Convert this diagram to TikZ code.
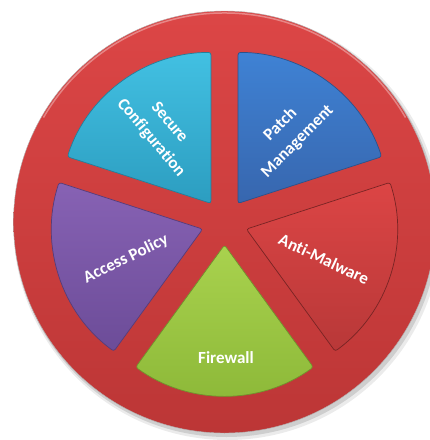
\documentclass[tikz,border=0pt]{standalone}
\usepackage{fontspec}
\setmainfont[Ligatures=NoCommon]{Carlito}
\definecolor{diskT}{HTML}{DC4646}
\definecolor{diskB}{HTML}{BC3636}
\definecolor{cyanT}{HTML}{42C0E2}
\definecolor{cyanB}{HTML}{2C9DC0}
\definecolor{blueT}{HTML}{3F82D4}
\definecolor{blueB}{HTML}{3766AE}
\definecolor{purT}{HTML}{8762B4}
\definecolor{purB}{HTML}{6C4C98}
\definecolor{grnT}{HTML}{A9D24E}
\definecolor{grnB}{HTML}{8CB838}
\definecolor{redT}{HTML}{DC4545}
\definecolor{redB}{HTML}{B83838}
\tikzset{
  wedgebox/.style={rounded corners=2.5pt, line width=0.7pt},
  lbl/.style={text=white, font=\bfseries\fontsize{17}{24}\selectfont, align=center, inner sep=0pt}
}
\begin{document}
\begin{tikzpicture}[x=1pt,y=1pt]
\useasboundingbox (0,-440) rectangle (430,0);
\fill[white] (0,-440) rectangle (430,0);
\coordinate (C) at (224.5,-222);
% soft shadow
\fill[black, opacity=0.08] ([shift={(3,-4)}]C) circle (214);
\fill[black, opacity=0.12] ([shift={(2,-3)}]C) circle (212);
% disk
\shade[top color=diskT, bottom color=diskB, draw=black!30, line width=0.4pt] (C) circle (211);
\draw[white, opacity=0.35, line width=1.5pt] ([shift={(30:209)}]C) arc[start angle=30, end angle=150, radius=209];
% wedges
\shade[wedgebox, draw=cyanB!80!black, top color=cyanT, bottom color=cyanB]
  ([shift={(126:23)}]C) -- ++(90:151) arc[start angle=90, end angle=162, radius=151] -- cycle;
\shade[wedgebox, draw=blueB!80!black, top color=blueT, bottom color=blueB]
  ([shift={(54:23)}]C) -- ++(18:151) arc[start angle=18, end angle=90, radius=151] -- cycle;
\shade[wedgebox, draw=redB!65!black, top color=redT, bottom color=redB]
  ([shift={(-18:23)}]C) -- ++(-54:151) arc[start angle=-54, end angle=18, radius=151] -- cycle;
\shade[wedgebox, draw=grnB!80!black, top color=grnT, bottom color=grnB]
  ([shift={(-90:23)}]C) -- ++(-126:151) arc[start angle=-126, end angle=-54, radius=151] -- cycle;
\shade[wedgebox, draw=purB!80!black, top color=purT, bottom color=purB]
  ([shift={(198:23)}]C) -- ++(162:151) arc[start angle=162, end angle=234, radius=151] -- cycle;
% labels
\node[lbl, rotate=-50] (sec) at (160,-130.5) {Secure\\Configuration};
\node[lbl, rotate=45] (pat) at (289,-133) {Patch\\Management};
\node[lbl, rotate=26] (acc) at (126,-259) {Access Policy};
\node[lbl, rotate=-25] (mal) at (324,-259) {Anti-Malware};
\node[lbl] (fir) at (226,-358) {Firewall};
\end{tikzpicture}
\end{document}
